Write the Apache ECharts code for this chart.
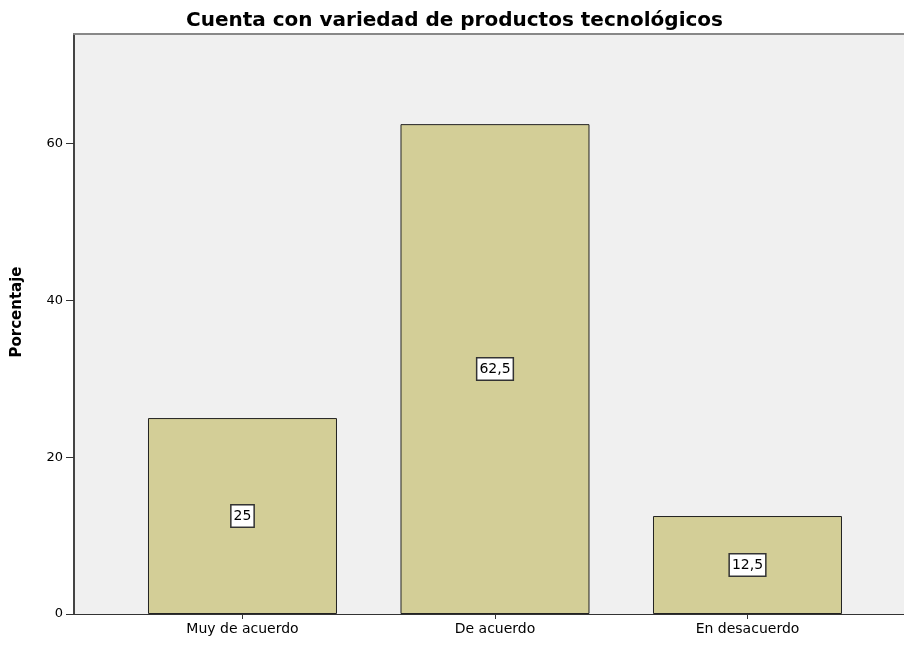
<!DOCTYPE html>
<html>
<head>
<meta charset="utf-8">
<script src="https://cdn.jsdelivr.net/npm/echarts@6/dist/echarts.min.js"></script>
<style>
  html, body { margin: 0; padding: 0; background: #ffffff; }
  #chart { width: 904px; height: 645px; }
</style>
</head>
<body>
<div id="chart"></div>
<script>
  const categories = ['Muy de acuerdo', 'De acuerdo', 'En desacuerdo']
  const percentages = [25, 62.5, 12.5]
  const yTicks = [0, 20, 40, 60]

  const positions = categories.map((c, i) => i)

  const chart = echarts.init(document.getElementById('chart'))
  chart.setOption({
    animation: false,
    textStyle: { fontFamily: 'DejaVu Sans, sans-serif' },
    title: {
      text: 'Cuenta con variedad de productos tecnológicos',
      left: 181,
      top: 6,
      textStyle: { fontSize: 20, fontWeight: 'bold', color: '#000', fontFamily: 'DejaVu Sans' }
    },
    graphic: [
      {
        type: 'text',
        x: 10,
        y: 312,
        rotation: Math.PI / 2,
        style: {
          text: 'Porcentaje',
          font: 'bold 15px DejaVu Sans',
          fill: '#000',
          align: 'center',
          verticalAlign: 'top'
        }
      }
    ],
    grid: {
      left: 74,
      top: 34,
      right: 0,
      bottom: 31,
      show: true,
      backgroundColor: '#f0f0f0',
      borderWidth: 0
    },
    xAxis: [
      {
        type: 'value',
        min: -0.6673,
        max: 2.6198,
        splitLine: { show: false },
        axisLine: { show: true, lineStyle: { color: '#333', width: 1 } },
        axisTick: {
          show: true,
          customValues: positions,
          length: 5,
          lineStyle: { color: '#333' }
        },
        axisLabel: {
          customValues: positions,
          formatter: v => categories[Math.round(v)],
          color: '#000',
          fontSize: 14,
          margin: 8
        }
      },
      {
        type: 'value',
        position: 'top',
        min: -0.6673,
        max: 2.6198,
        splitLine: { show: false },
        axisLine: { show: true, onZero: false, lineStyle: { color: '#888', width: 2 } },
        axisTick: { show: false },
        axisLabel: { show: false }
      }
    ],
    yAxis: {
      type: 'value',
      min: 0,
      max: 74,
      interval: 20,
      splitLine: { show: false },
      axisLine: { show: true, onZero: false, lineStyle: { color: '#444', width: 2 } },
      axisTick: {
        show: true,
        customValues: yTicks,
        length: 8,
        lineStyle: { color: '#333' }
      },
      axisLabel: {
        customValues: yTicks,
        color: '#000',
        fontSize: 13,
        margin: 11
      }
    },
    series: [
      {
        type: 'bar',
        xAxisIndex: 0,
        barWidth: 189,
        data: percentages.map((v, i) => [positions[i], v]),
        itemStyle: {
          color: '#d3ce97',
          borderColor: '#222',
          borderWidth: 1
        },
        label: {
          show: true,
          position: 'inside',
          formatter: p => String(p.value[1]).replace('.', ','),
          color: '#000',
          fontSize: 14,
          backgroundColor: '#fff',
          borderColor: '#333',
          borderWidth: 1.5,
          padding: [4, 2, 3, 2]
        }
      }
    ]
  })
</script>
</body>
</html>
